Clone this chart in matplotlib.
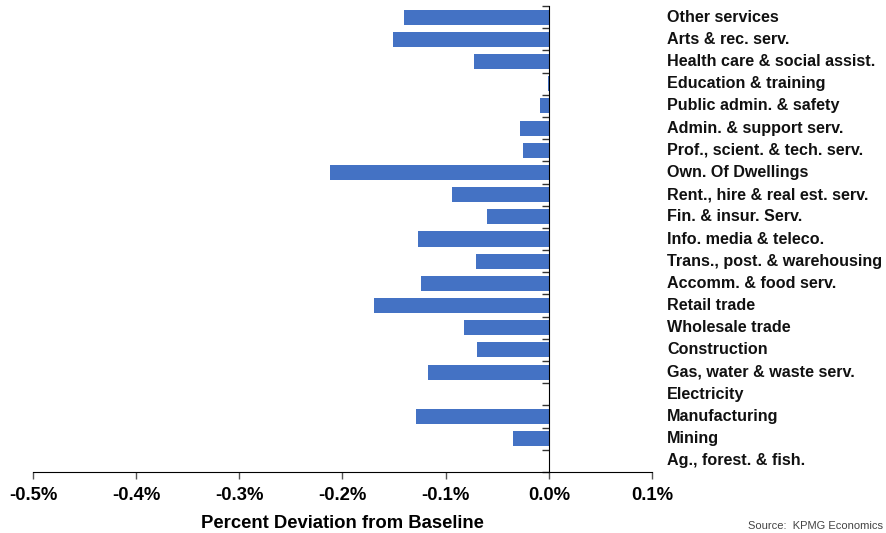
import matplotlib
matplotlib.use("Agg")
import matplotlib.pyplot as plt
import numpy as np

# Industries listed bottom to top
industries = [
    "Ag., forest. & fish.",
    "Mining",
    "Manufacturing",
    "Electricity",
    "Gas, water & waste serv.",
    "Construction",
    "Wholesale trade",
    "Retail trade",
    "Accomm. & food serv.",
    "Trans., post. & warehousing",
    "Info. media & teleco.",
    "Fin. & insur. Serv.",
    "Rent., hire & real est. serv.",
    "Own. Of Dwellings",
    "Prof., scient. & tech. serv.",
    "Admin. & support serv.",
    "Public admin. & safety",
    "Education & training",
    "Health care & social assist.",
    "Arts & rec. serv.",
    "Other services",
]

# Percent deviation from baseline
deviation = [
    0.0016, -0.035, -0.129, 0.0, -0.117, -0.070, -0.082, -0.169, -0.124,
    -0.071, -0.127, -0.060, -0.094, -0.212, -0.0255, -0.0275, -0.009,
    -0.001, -0.073, -0.1515, -0.140,
]

x_ticks = [-0.5, -0.4, -0.3, -0.2, -0.1, 0.0, 0.1]
x_tick_labels = ["-0.5%", "-0.4%", "-0.3%", "-0.2%", "-0.1%", "0.0%", "0.1%"]

bar_color = "#4472C4"
font = "Liberation Sans"

fig = plt.figure(figsize=(8.87, 5.33), dpi=100)
ax = fig.add_axes([33 / 887, 1 - 472 / 533, (652 - 33) / 887, (472 - 6) / 533])

pos = np.arange(len(industries))
ax.barh(pos, deviation, height=0.68, color=bar_color, zorder=2)

ax.set_xlim(-0.5, 0.1)
ax.set_ylim(-0.5, len(industries) - 0.5)

# Vertical axis sits at zero, ticks mark category boundaries
ax.spines["left"].set_position(("data", 0))
ax.spines["right"].set_visible(False)
ax.spines["top"].set_visible(False)
ax.spines["left"].set_color("black")
ax.spines["bottom"].set_color("black")
ax.set_yticks(np.arange(-0.5, len(industries), 1.0))
ax.set_yticklabels([])
ax.tick_params(axis="y", direction="out", length=5, width=1, color="#333333")

ax.set_xticks(x_ticks)
ax.set_xticklabels(x_tick_labels, fontsize=13.3, fontweight="bold", family=font)
ax.tick_params(axis="x", direction="out", length=5, width=1, color="#555555", pad=6)

# Industry labels on the right of the plot area
label_x = (667 - 33) / (652 - 33)
for p, name in zip(pos, industries):
    ax.text(label_x, p, name, transform=ax.get_yaxis_transform(),
            ha="left", va="center", fontsize=11.6, fontweight="bold",
            family=font, color="#111111", clip_on=False)

ax.set_xlabel("Percent Deviation from Baseline", fontsize=13.3,
              fontweight="bold", family=font, labelpad=8)

fig.text(748 / 887, 1 - 521 / 533, "Source:  KPMG Economics", fontsize=8,
         family=font, color="#444444", ha="left", va="top")

fig.savefig("out.png", dpi=100)
